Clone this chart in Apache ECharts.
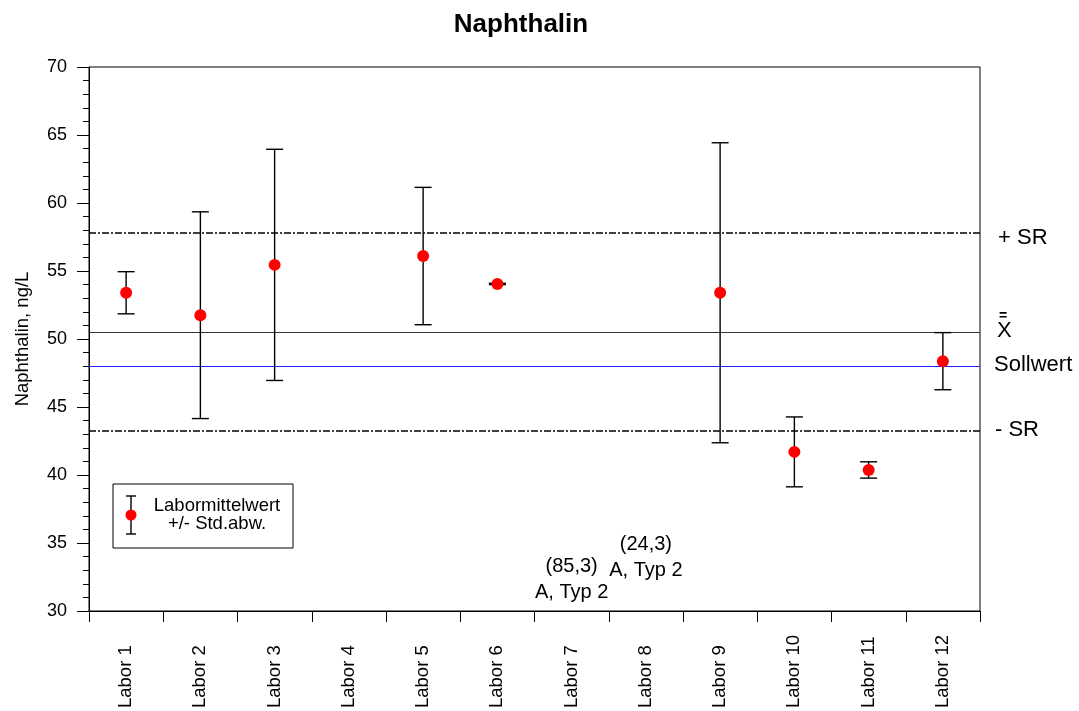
<!DOCTYPE html>
<html>
<head>
<meta charset="utf-8">
<script src="https://cdn.jsdelivr.net/npm/echarts@6/dist/echarts.min.js"></script>
<style>
html,body{margin:0;padding:0;background:#fff;}
#chart{width:1079px;height:711px;}
</style>
</head>
<body>
<div id="chart"></div>
<script>
// ---- data ----
const categories = ['Labor 1','Labor 2','Labor 3','Labor 4','Labor 5','Labor 6','Labor 7','Labor 8','Labor 9','Labor 10','Labor 11','Labor 12'];
const means = [53.4, 51.75, 55.45, null, 56.1, 54.05, null, null, 53.4, 41.7, 40.37, 48.37];
const stdDevs = [1.55, 7.6, 8.5, null, 5.05, 0.05, null, null, 11.03, 2.57, 0.6, 2.1];
const plusSR = 57.8;
const meanAll = 50.5;
const sollwert = 48.0;
const minusSR = 43.25;
const refLabels = ['+ SR', 'X', 'Sollwert', '- SR'];
const annotCats = ['Labor 7', 'Labor 8'];
const annotTexts = ['(85,3)\nA, Typ 2', '(24,3)\nA, Typ 2'];
const annotY = [32.32, 33.93];
const yTicks = [30, 35, 40, 45, 50, 55, 60, 65, 70];

const FONT = 'Liberation Sans, Arial, sans-serif';

const errData = [];
means.forEach((m, i) => { if (m != null) errData.push([i, m - stdDevs[i], m + stdDevs[i]]); });

const chart = echarts.init(document.getElementById('chart'));
const option = {
  animation: false,
  backgroundColor: '#fff',
  title: {
    text: 'Naphthalin', left: 516, top: 7, textAlign: 'center',
    textStyle: { fontFamily: FONT, fontSize: 26, fontWeight: 'bold', color: '#000' }
  },
  grid: { left: 89, right: 99, top: 67, bottom: 100, show: true, borderColor: '#000', borderWidth: 1, backgroundColor: 'transparent' },
  xAxis: {
    type: 'category', data: categories, boundaryGap: true,
    axisLine: { lineStyle: { color: '#000', width: 1 } },
    axisTick: { show: true, alignWithLabel: false, length: 11, inside: false, lineStyle: { color: '#000' } },
    axisLabel: { rotate: 90, margin: 97, align: 'left', verticalAlign: 'middle', fontFamily: FONT, fontSize: 18.5, color: '#000', interval: 0 },
    splitLine: { show: false }
  },
  yAxis: {
    type: 'value', min: yTicks[0], max: yTicks[yTicks.length - 1], interval: 5,
    name: 'Naphthalin, ng/L', nameLocation: 'middle', nameGap: 57, nameRotate: 90,
    nameTextStyle: { fontFamily: FONT, fontSize: 18.5, color: '#000' },
    axisLine: { show: true, lineStyle: { color: '#000', width: 1 } },
    axisTick: { show: true, length: 12, lineStyle: { color: '#000' } },
    minorTick: { show: true, splitNumber: 5, length: 6, lineStyle: { color: '#000' } },
    axisLabel: { fontFamily: FONT, fontSize: 18, color: '#000', margin: 22 },
    splitLine: { show: false }
  },
  series: [
    {
      type: 'custom', name: 'err', z: 3,
      renderItem: function (params, api) {
        const hiP = api.coord([api.value(0), api.value(2)]);
        const loP = api.coord([api.value(0), api.value(1)]);
        const w = 8.5;
        const st = { stroke: '#000', lineWidth: 1.4 };
        return { type: 'group', children: [
          { type: 'line', shape: { x1: hiP[0], y1: hiP[1], x2: loP[0], y2: loP[1] }, style: st },
          { type: 'line', shape: { x1: hiP[0] - w, y1: hiP[1], x2: hiP[0] + w, y2: hiP[1] }, style: st },
          { type: 'line', shape: { x1: loP[0] - w, y1: loP[1], x2: loP[0] + w, y2: loP[1] }, style: st }
        ]};
      },
      data: errData
    },
    {
      type: 'scatter', name: 'Labormittelwert', z: 5,
      symbol: 'circle', symbolSize: 12,
      itemStyle: { color: '#ff0000', opacity: 1 },
      data: means,
      markLine: {
        silent: true, symbol: 'none', label: { show: false }, z: 2,
        data: [
          { yAxis: plusSR, lineStyle: { color: '#000', width: 1.6, type: [7, 2, 2, 2] } },
          { yAxis: meanAll, lineStyle: { color: '#333', width: 1.2, type: 'solid' } },
          { yAxis: sollwert, lineStyle: { color: '#2020ff', width: 1.2, type: 'solid' } },
          { yAxis: minusSR, lineStyle: { color: '#000', width: 1.6, type: [7, 2, 2, 2] } }
        ]
      }
    },
    {
      type: 'scatter', name: 'annot', symbol: 'circle', symbolSize: 1, z: 6,
      itemStyle: { color: 'rgba(255,255,255,0)' },
      data: annotCats.map((c, i) => ({ value: [c, annotY[i]], label: { formatter: annotTexts[i] } })),
      label: {
        show: true, position: 'inside', fontFamily: FONT, fontSize: 20, lineHeight: 26,
        color: '#000', opacity: 1, textBorderWidth: 0, align: 'center', verticalAlign: 'middle'
      }
    }
  ]
};
chart.setOption(option);

// right-side reference labels and legend box
const yPix = v => chart.convertToPixel({ yAxisIndex: 0 }, v);
const rStyle = txt => ({ text: txt, fontFamily: FONT, fontSize: 22, fill: '#000', verticalAlign: 'middle' });
chart.setOption({
  graphic: [
    { type: 'text', x: 998, y: yPix(plusSR) + 5, style: rStyle(refLabels[0]) },
    { type: 'text', x: 999, y: yPix(meanAll) - 16, style: { text: '=', fontFamily: FONT, fontSize: 14, fontWeight: 'bold', fill: '#000', verticalAlign: 'middle' } },
    { type: 'text', x: 997, y: yPix(meanAll) - 1, style: rStyle(refLabels[1]) },
    { type: 'text', x: 994, y: yPix(sollwert) - 1, style: rStyle(refLabels[2]) },
    { type: 'text', x: 995, y: yPix(minusSR) - 1, style: rStyle(refLabels[3]) },
    {
      type: 'group', x: 113, y: 484, children: [
        { type: 'rect', shape: { x: 0, y: 0, width: 180, height: 64 }, style: { fill: '#fff', stroke: '#000', lineWidth: 1 } },
        { type: 'line', shape: { x1: 18, y1: 12, x2: 18, y2: 50 }, style: { stroke: '#000', lineWidth: 1.4 } },
        { type: 'line', shape: { x1: 13, y1: 12, x2: 23, y2: 12 }, style: { stroke: '#000', lineWidth: 1.4 } },
        { type: 'line', shape: { x1: 13, y1: 50, x2: 23, y2: 50 }, style: { stroke: '#000', lineWidth: 1.4 } },
        { type: 'circle', shape: { cx: 18, cy: 31, r: 5.5 }, style: { fill: '#ff0000' } },
        { type: 'text', x: 104, y: 31, style: { text: 'Labormittelwert\n+/- Std.abw.', fontFamily: FONT, fontSize: 18.5, lineHeight: 18, fill: '#000', align: 'center', verticalAlign: 'middle' } }
      ]
    }
  ]
});
</script>
</body>
</html>
